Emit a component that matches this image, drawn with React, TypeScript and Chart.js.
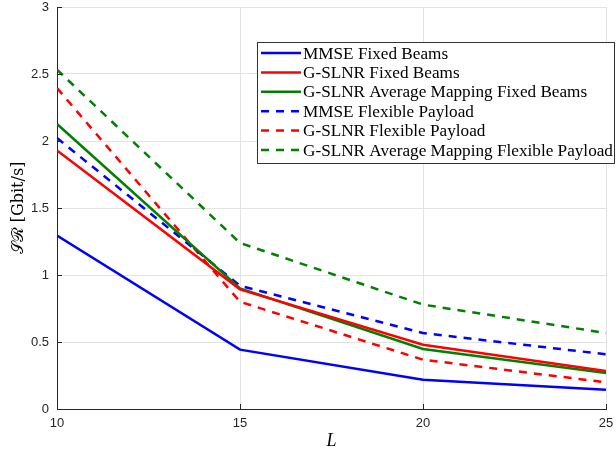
import React, { useEffect, useRef } from "react";
import { Chart, registerables } from "chart.js";

Chart.register(...registerables);

const L = [10, 15, 20, 25];
const mmseFixed = [1.295, 0.443, 0.219, 0.144];
const gslnrFixed = [1.93, 0.893, 0.48, 0.284];
const gslnrAvgFixed = [2.127, 0.9, 0.448, 0.269];
const mmseFlex = [2.022, 0.92, 0.567, 0.408];
const gslnrFlex = [2.395, 0.8, 0.368, 0.199];
const gslnrAvgFlex = [2.532, 1.239, 0.779, 0.567];

const seriesLabels = [
  "MMSE Fixed Beams",
  "G-SLNR Fixed Beams",
  "G-SLNR Average Mapping Fixed Beams",
  "MMSE Flexible Payload",
  "G-SLNR Flexible Payload",
  "G-SLNR Average Mapping Flexible Payload",
];
const seriesValues = [mmseFixed, gslnrFixed, gslnrAvgFixed, mmseFlex, gslnrFlex, gslnrAvgFlex];
const seriesColors = ["#0000ff", "#ff0000", "#008000", "#0000ff", "#ff0000", "#008000"];
const seriesDashed = [false, false, false, true, true, true];

const AXIS = "#262626";
const GRID = "#e3e3e3";
const DASH = [8, 7];

const legendPlugin = {
  id: "boxLegend",
  afterDraw(chart: any) {
    const ctx = chart.ctx;
    const ca = chart.chartArea;
    // inward ticks
    ctx.save();
    ctx.strokeStyle = AXIS;
    ctx.lineWidth = 1;
    const ys = chart.scales.y;
    const xs = chart.scales.x;
    ys.ticks.forEach((t: any) => {
      const py = Math.round(ys.getPixelForValue(t.value)) + 0.5;
      ctx.beginPath();
      ctx.moveTo(ca.left, py);
      ctx.lineTo(ca.left + 5, py);
      ctx.stroke();
    });
    xs.ticks.forEach((t: any) => {
      const px = Math.round(xs.getPixelForValue(t.value)) + 0.5;
      ctx.beginPath();
      ctx.moveTo(px, ca.bottom);
      ctx.lineTo(px, ca.bottom - 5);
      ctx.stroke();
    });
    ctx.restore();

    // legend box
    const x0 = 257;
    const y0 = 42;
    const w = 358;
    const h = 121;
    ctx.save();
    ctx.fillStyle = "#ffffff";
    ctx.fillRect(x0, y0, w, h);
    ctx.strokeStyle = "#333333";
    ctx.lineWidth = 1;
    ctx.strokeRect(x0 + 0.5, y0 + 0.5, w - 1, h);
    chart.data.datasets.forEach((ds: any, i: number) => {
      const y = 53 + i * 19.4;
      ctx.strokeStyle = ds.borderColor;
      ctx.lineWidth = ds.borderWidth;
      ctx.setLineDash(ds.borderDash || []);
      ctx.beginPath();
      ctx.moveTo(261, y);
      ctx.lineTo(301, y);
      ctx.stroke();
      ctx.setLineDash([]);
      ctx.fillStyle = "#000000";
      ctx.font = '17.2px "Liberation Serif"';
      ctx.textBaseline = "middle";
      ctx.textAlign = "left";
      ctx.fillText(ds.label, 303, y + 1);
    });
    ctx.restore();
  },
};

export default function App() {
  const ref = useRef<HTMLCanvasElement>(null);
  useEffect(() => {
    if (!ref.current) return;
    const datasets = seriesLabels.map((label, i) => ({
      label,
      data: L.map((x, j) => ({ x, y: seriesValues[i][j] })),
      borderColor: seriesColors[i],
      backgroundColor: seriesColors[i],
      borderWidth: 2.5,
      borderDash: seriesDashed[i] ? DASH : [],
      pointRadius: 0,
      tension: 0,
      fill: false,
    }));
    const chart = new Chart(ref.current, {
      type: "line",
      data: { datasets },
      plugins: [legendPlugin],
      options: {
        animation: false,
        responsive: false,
        events: [],
        layout: { padding: { left: 0, right: 10, top: 7, bottom: 0 } },
        plugins: { legend: { display: false }, tooltip: { enabled: false } },
        scales: {
          x: {
            type: "linear",
            min: 10,
            max: 25,
            afterFit: (s: any) => {
              s.height = 46;
              s.paddingLeft = 0;
              s.paddingRight = 0;
            },
            ticks: {
              stepSize: 5,
              color: AXIS,
              padding: 7,
              font: { family: '"Liberation Sans", Arial', size: 13 },
            },
            grid: { color: GRID, drawTicks: false },
            border: { display: true, color: AXIS, width: 1 },
            title: {
              display: true,
              text: "L",
              color: "#000",
              padding: { top: 0, bottom: 3 },
              font: { family: '"Liberation Serif", serif', size: 18, style: "italic" },
            },
          },
          y: {
            min: 0,
            max: 3,
            afterFit: (s: any) => {
              s.width = 57;
              s.paddingTop = 0;
              s.paddingBottom = 0;
            },
            ticks: {
              stepSize: 0.5,
              color: AXIS,
              padding: 8,
              font: { family: '"Liberation Sans", Arial', size: 13 },
              callback: (v: any) => String(Number(v)),
            },
            grid: { color: GRID, drawTicks: false },
            border: { display: true, color: AXIS, width: 1 },
            title: {
              display: true,
              text: "𝒮ℛ [Gbit/s]",
              color: "#000",
              padding: { top: 9, bottom: 0 },
              font: { family: '"DejaVu Serif", "Liberation Serif", serif', size: 16 },
            },
          },
        },
      },
    });
    return () => chart.destroy();
  }, []);
  return (
    <div style={{ position: "fixed", left: 0, top: 0, width: 616, height: 455, background: "#fff" }}>
      <canvas ref={ref} width={616} height={455} style={{ width: 616, height: 455 }} />
    </div>
  );
}
